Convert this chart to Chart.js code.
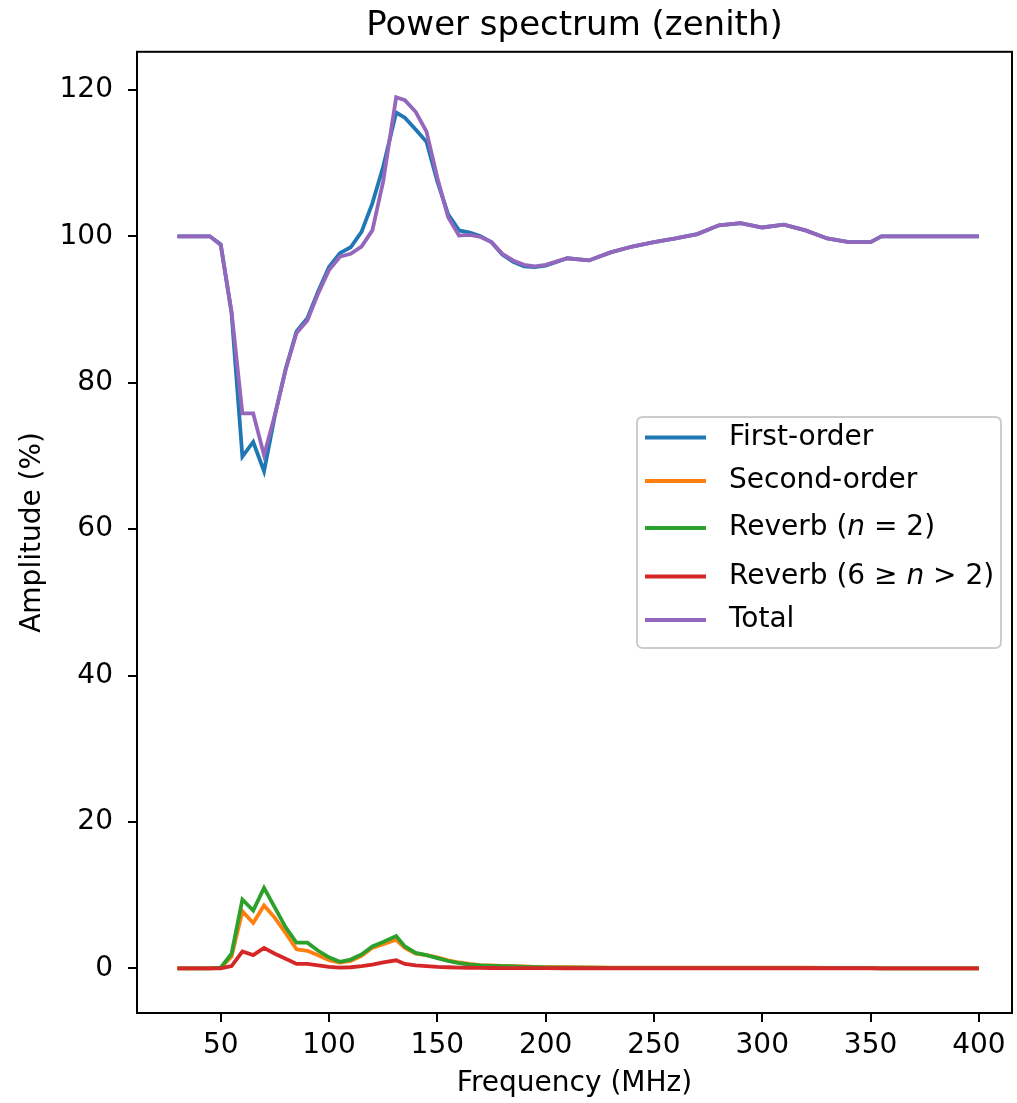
<!DOCTYPE html>
<html>
<head>
<meta charset="utf-8">
<script src="https://cdn.jsdelivr.net/npm/chart.js@4/dist/chart.umd.min.js"></script>
<style>
  html, body { margin: 0; padding: 0; background: #fff; }
  #wrap { width: 1017px; height: 1103px; position: relative; }
</style>
</head>
<body>
<div id="wrap"><canvas id="c" width="1017" height="1103"></canvas></div>
<script>
// ---- data ----
const freq = [30,35,40,45,50,55,60,65,70,75,80,85,90,95,100,105,110,115,120,125,131,135,140,145,150,155,160,165,170,175,180,185,190,195,200,210,220,230,240,250,260,270,280,290,300,310,320,330,340,350,355,360,370,380,390,400];

const firstOrder = [100,100,100,100,98.9,89.5,69.9,71.9,67.9,75.5,81.9,87.0,88.8,92.5,95.8,97.7,98.5,100.6,104.5,109.5,116.9,116.2,114.6,112.9,107.5,103.0,100.8,100.5,100.0,99.2,97.5,96.5,95.9,95.8,96.0,97.0,96.7,97.8,98.6,99.2,99.7,100.3,101.5,101.8,101.2,101.6,100.8,99.7,99.2,99.2,100,100,100,100,100,100];

const secondOrder = [0,0,0,0,0.05,1.6,7.8,6.2,8.6,6.9,4.8,2.6,2.4,1.8,1.1,0.8,1.0,1.7,2.8,3.3,3.9,2.8,2.0,1.8,1.5,1.1,0.8,0.6,0.45,0.4,0.35,0.3,0.25,0.2,0.18,0.15,0.12,0.1,0.1,0.1,0.1,0.1,0.1,0.1,0.1,0.1,0.08,0.06,0.05,0.05,0,0,0,0,0,0];

const reverb2 = [0,0,0,0,0.1,2.0,9.4,7.9,11.0,8.3,5.6,3.5,3.5,2.4,1.5,0.9,1.2,1.9,3.0,3.6,4.4,3.0,2.1,1.8,1.4,1.0,0.7,0.5,0.4,0.35,0.3,0.25,0.2,0.15,0.12,0.1,0.08,0.07,0.06,0.05,0.05,0.05,0.05,0.05,0.05,0.05,0.04,0.04,0.03,0.03,0,0,0,0,0,0];

const reverb6 = [0,0,0,0,0,0.3,2.3,1.8,2.8,2.0,1.3,0.6,0.6,0.4,0.2,0.1,0.15,0.3,0.5,0.8,1.1,0.6,0.4,0.3,0.2,0.15,0.1,0.08,0.06,0.05,0.04,0.03,0.03,0.02,0.02,0.01,0.01,0.01,0.01,0.01,0.01,0.01,0.01,0.01,0.01,0.01,0.01,0.01,0.01,0.01,0,0,0,0,0,0];

const total = [100,100,100,100,98.8,89.7,75.8,75.8,70.1,75.6,81.8,86.8,88.5,92.2,95.4,97.2,97.6,98.6,100.8,107.5,119.0,118.6,117.0,114.3,108.0,102.6,100.1,100.2,99.9,99.2,97.6,96.7,96.1,95.9,96.1,97.0,96.7,97.8,98.6,99.2,99.7,100.3,101.5,101.8,101.2,101.6,100.8,99.7,99.2,99.2,100,100,100,100,100,100];

const seriesLabels = ["First-order","Second-order","Reverb (n = 2)","Reverb (6 \u2265 n > 2)","Total"];
const seriesColors = ["#1f77b4","#ff7f0e","#2ca02c","#d62728","#9467bd"];
const xTicks = [50,100,150,200,250,300,350,400];
const yTicks = [0,20,40,60,80,100,120];

const chartTitle = "Power spectrum (zenith)";
const xLabel = "Frequency (MHz)";
const yLabel = "Amplitude (%)";

// ---- build ----
const seriesValues = [firstOrder, secondOrder, reverb2, reverb6, total];
const FONT = "'DejaVu Sans', sans-serif";

const datasets = seriesValues.map((vals, i) => ({
  label: seriesLabels[i],
  data: freq.map((f, k) => ({x: f, y: vals[k]})),
  borderColor: seriesColors[i],
  backgroundColor: seriesColors[i],
  borderWidth: 3.8,
  pointRadius: 0,
  tension: 0,
  fill: false,
  order: seriesValues.length - i
}));

const frameAndLegend = {
  id: 'frameAndLegend',
  afterDatasetsDraw(chart) {
    const ctx = chart.ctx;
    const a = chart.chartArea;
    ctx.save();
    // full frame
    ctx.strokeStyle = '#000';
    ctx.lineWidth = 2;
    ctx.strokeRect(a.left, a.top, a.right - a.left, a.bottom - a.top);

    // legend box (center right inside axes)
    const bx = 637, by = 417, bw = 364, bh = 231, r = 6;
    ctx.beginPath();
    ctx.moveTo(bx + r, by);
    ctx.lineTo(bx + bw - r, by);
    ctx.quadraticCurveTo(bx + bw, by, bx + bw, by + r);
    ctx.lineTo(bx + bw, by + bh - r);
    ctx.quadraticCurveTo(bx + bw, by + bh, bx + bw - r, by + bh);
    ctx.lineTo(bx + r, by + bh);
    ctx.quadraticCurveTo(bx, by + bh, bx, by + bh - r);
    ctx.lineTo(bx, by + r);
    ctx.quadraticCurveTo(bx, by, bx + r, by);
    ctx.closePath();
    ctx.fillStyle = 'rgba(255,255,255,0.8)';
    ctx.fill();
    ctx.strokeStyle = '#cccccc';
    ctx.lineWidth = 2;
    ctx.stroke();

    const rows = [437.5, 481, 528, 576.5, 620];
    chart.data.datasets.forEach((ds, i) => {
      const y = rows[i];
      ctx.strokeStyle = ds.borderColor;
      ctx.lineWidth = 4;
      ctx.beginPath();
      ctx.moveTo(645, y);
      ctx.lineTo(706, y);
      ctx.stroke();
      // text with italic math variable n
      ctx.fillStyle = '#000';
      ctx.textBaseline = 'middle';
      ctx.textAlign = 'left';
      let x = 729;
      const parts = ds.label.split(/(\bn\b)/);
      parts.forEach(p => {
        if (!p) return;
        ctx.font = (p === 'n' ? 'oblique ' : '') + '28px ' + FONT;
        ctx.fillText(p, x, y);
        x += ctx.measureText(p).width;
      });
    });
    ctx.restore();
  }
};

new Chart(document.getElementById('c'), {
  type: 'line',
  data: { datasets },
  plugins: [frameAndLegend],
  options: {
    responsive: false,
    animation: false,
    devicePixelRatio: 1,
    layout: { padding: { left: 0, right: 5, top: 0, bottom: 0 } },
    plugins: {
      legend: { display: false },
      tooltip: { enabled: false },
      title: {
        display: true,
        fullSize: false,
        text: chartTitle,
        color: '#000',
        font: { family: FONT, size: 34, weight: 'normal' },
        padding: { top: 6, bottom: 5 }
      }
    },
    scales: {
      x: {
        type: 'linear',
        min: 11.35,
        max: 415.3,
        afterBuildTicks(scale) { scale.ticks = xTicks.map(v => ({value: v})); },
        afterFit(scale) { scale.height = 90; },
        grid: { drawOnChartArea: false, drawTicks: true, tickLength: 9, color: '#000', lineWidth: 2 },
        border: { display: true, color: '#000', width: 2 },
        ticks: { color: '#000', font: { family: FONT, size: 28 }, padding: 7, maxRotation: 0, autoSkip: false },
        title: { display: true, text: xLabel, color: '#000', font: { family: FONT, size: 28 }, padding: { top: 0, bottom: 2 } }
      },
      y: {
        type: 'linear',
        min: -6.1,
        max: 125.2,
        afterBuildTicks(scale) { scale.ticks = yTicks.map(v => ({value: v})); },
        afterFit(scale) { scale.width = 137; },
        grid: { drawOnChartArea: false, drawTicks: true, tickLength: 9, color: '#000', lineWidth: 2 },
        border: { display: true, color: '#000', width: 2 },
        ticks: { color: '#000', font: { family: FONT, size: 28 }, padding: 15 },
        title: { display: true, text: yLabel, color: '#000', font: { family: FONT, size: 28 }, padding: { top: 16, bottom: 0 } }
      }
    }
  }
});
</script>
</body>
</html>
